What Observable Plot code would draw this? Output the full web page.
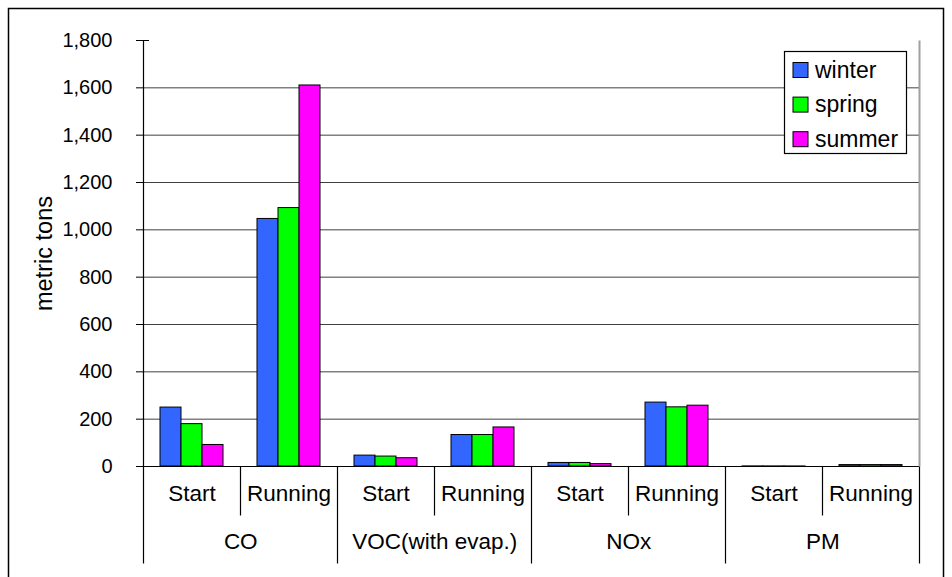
<!DOCTYPE html>
<html>
<head>
<meta charset="utf-8">
<script src="https://cdn.jsdelivr.net/npm/d3@7"></script>
<script src="https://cdn.jsdelivr.net/npm/@observablehq/plot@0.6"></script>
<style>
  html, body { margin: 0; padding: 0; background: #fff; }
  #chart { width: 952px; height: 577px; }
</style>
</head>
<body>
<div id="chart"></div>
<script>
// Emissions by pollutant, split into start and running exhaust, per season
const pollutants = ["CO", "VOC(with evap.)", "NOx", "PM"];
const modes = ["Start", "Running"];
const seasons = ["winter", "spring", "summer"];
const seasonColors = ["#3366FF", "#00FF00", "#FF00FF"];

// metric tons, ordered CO Start, CO Running, VOC Start, VOC Running, NOx Start, NOx Running, PM Start, PM Running
const winterTons = [249, 1046, 46, 133, 15, 270, 0.4, 6];
const springTons = [179, 1092, 42, 133, 15, 250, 0.4, 6];
const summerTons = [91, 1610, 35, 165, 10, 257, 0.3, 6];

const yTicks = [0, 200, 400, 600, 800, 1000, 1200, 1400, 1600, 1800];
const yLabel = "metric tons";

const seriesBySeason = [winterTons, springTons, summerTons];
const keys = pollutants.flatMap(p => modes.map(m => `${p}|${m}`));
const modeRows = pollutants.flatMap(p => modes.map(m => ({key: `${p}|${m}`, mode: m})));
const rows = keys.flatMap((key, i) =>
  seasons.map((season, j) => ({key, season, value: seriesBySeason[j][i]}))
);

const W = 952, H = 577;
const margin = {left: 141, right: 31, top: 40, bottom: 111};
const halfSlot = (W - margin.left - margin.right) / keys.length / 2;
const font = "'Liberation Sans', Arial, sans-serif";

const chart = Plot.plot({
  width: W,
  height: H,
  marginLeft: margin.left,
  marginRight: margin.right,
  marginTop: margin.top,
  marginBottom: margin.bottom,
  style: {fontFamily: font, fontSize: "20px", color: "black", background: "white", overflow: "visible"},
  fx: {domain: keys, padding: 0, axis: null, label: null},
  x: {domain: seasons, paddingInner: 0, paddingOuter: 0.755, axis: null},
  y: {domain: [0, 1800], axis: null},
  color: {domain: seasons, range: seasonColors},
  marks: [
    Plot.ruleY(yTicks.filter(v => v > 0 && v < 1800), {stroke: "#404040", strokeWidth: 1}),
    Plot.barY(rows, {fx: "key", x: "season", y: "value", fill: "season", stroke: "black", strokeWidth: 1}),
    Plot.ruleY([0], {stroke: "black", strokeWidth: 1.2}),
    Plot.axisY({ticks: yTicks, tickSize: 7, tickPadding: 24, tickFormat: d3.format(","), fontSize: 20, stroke: "black", label: null}),
    Plot.axisY({ticks: [1800], tickSize: 6, dx: 6, tickFormat: () => "", stroke: "black", label: null}),
    Plot.text(modeRows, {fx: "key", text: "mode", frameAnchor: "bottom", dy: 34, fontSize: 22.5}),
    Plot.text(pollutants, {fx: p => `${p}|Start`, text: d => d, frameAnchor: "bottom", dx: halfSlot, dy: 82, fontSize: 22.5}),
    Plot.text([yLabel], {fx: () => keys[0], text: d => d, frameAnchor: "left", textAnchor: "middle", rotate: -90, dx: -99, fontSize: 23.5})
  ]
});

document.getElementById("chart").appendChild(chart);

// Category axis separators, plot border and legend, positioned with Plot's scales
const svg = d3.select(chart);
const fx = chart.scale("fx");
const y = chart.scale("y");
const x0 = fx.apply(keys[0]);
const step = fx.apply(keys[1]) - fx.apply(keys[0]);
const y0 = Math.round(y.apply(0)) + 0.5;
const yTop = Math.round(y.apply(1800)) + 0.5;
const longDrop = 97, shortDrop = 49;

const g = svg.append("g").attr("stroke-width", 1.2);
for (let i = 0; i <= keys.length; i++) {
  const xi = Math.round(x0 + i * step) + 0.5;
  if (i === 0) {
    g.append("line").attr("x1", xi).attr("x2", xi).attr("y1", yTop).attr("y2", y0 + longDrop).attr("stroke", "black");
  } else if (i === keys.length) {
    g.append("line").attr("x1", xi).attr("x2", xi).attr("y1", yTop).attr("y2", y0).attr("stroke", "#a0a0a0").attr("stroke-width", 2);
    g.append("line").attr("x1", xi).attr("x2", xi).attr("y1", y0).attr("y2", y0 + longDrop).attr("stroke", "black");
  } else {
    const drop = i % modes.length === 0 ? longDrop : shortDrop;
    g.append("line").attr("x1", xi).attr("x2", xi).attr("y1", y0).attr("y2", y0 + drop).attr("stroke", "black");
  }
}

// Outer chart border
svg.append("rect")
  .attr("x", 8.5).attr("y", 8.5).attr("width", 935).attr("height", 600)
  .attr("fill", "none").attr("stroke", "black").attr("stroke-width", 1.5);

// Legend box
const legend = svg.append("g")
  .attr("font-family", font).attr("font-size", 23).attr("text-anchor", "start");
legend.append("rect")
  .attr("x", 784.5).attr("y", 51.5).attr("width", 122).attr("height", 102)
  .attr("fill", "white").attr("stroke", "black").attr("stroke-width", 1.2);
seasons.forEach((s, i) => {
  const rowY = 62.5 + i * 34.6;
  legend.append("rect")
    .attr("x", 793).attr("y", rowY).attr("width", 15).attr("height", 15)
    .attr("fill", seasonColors[i]).attr("stroke", "black").attr("stroke-width", 1);
  legend.append("text")
    .attr("x", 815).attr("y", rowY + 15)
    .attr("text-anchor", "start")
    .attr("fill", "black")
    .text(s);
});
</script>
</body>
</html>
